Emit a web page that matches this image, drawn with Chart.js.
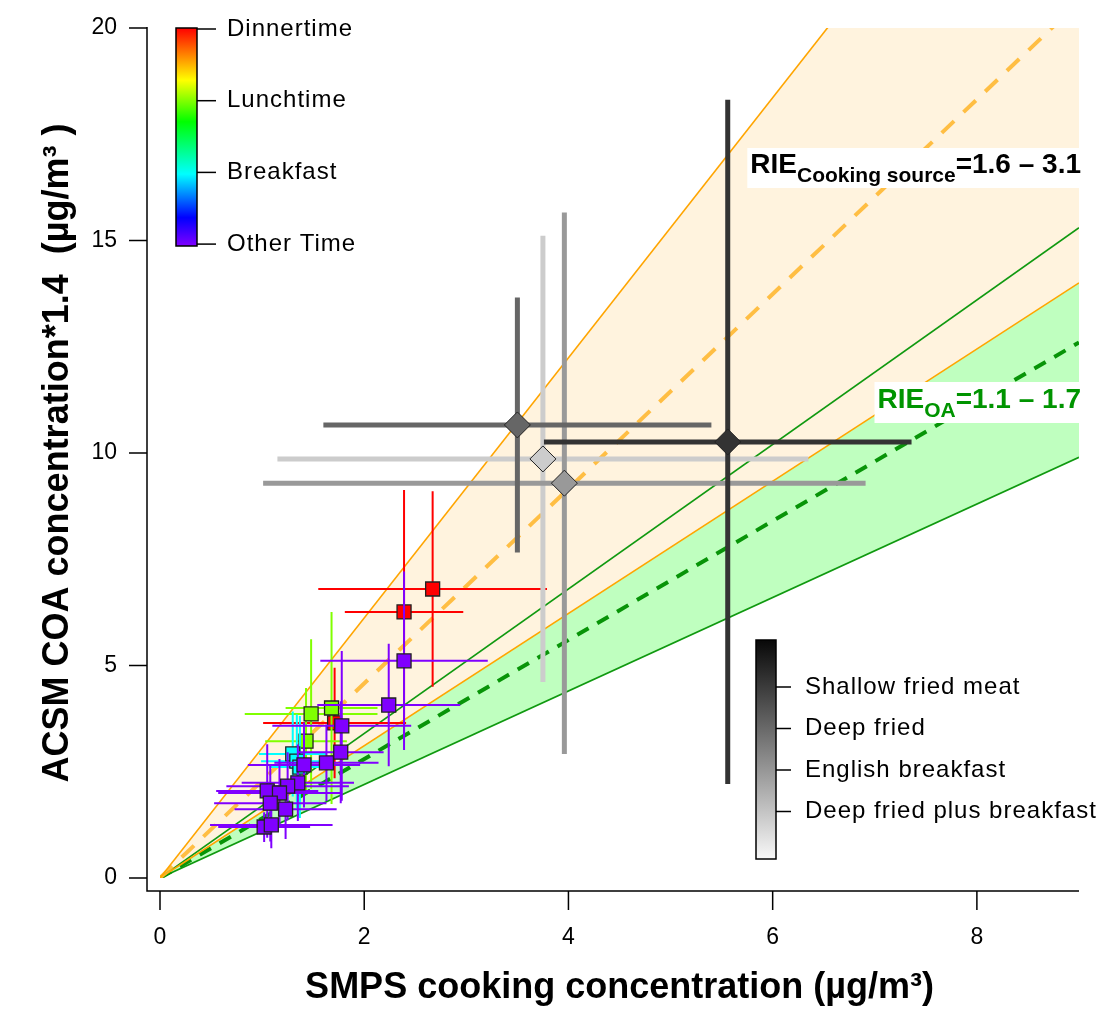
<!DOCTYPE html>
<html>
<head>
<meta charset="utf-8">
<script src="https://cdn.jsdelivr.net/npm/chart.js@4.4.1/dist/chart.umd.min.js"></script>
<style>body{margin:0;background:#fff}</style>
</head>
<body>
<canvas id="chart" width="1103" height="1010"></canvas>
<script>
// colored squares, one group per time of day
var dinnerX=[2.67,2.39,1.71];
var dinnerY=[6.80,6.26,3.65];
var dinnerXErr=[1.12,0.58,0.70];
var dinnerYErr=[2.30,2.87,1.30];

var lunchX=[1.68,1.48,1.43];
var lunchY=[4.00,3.86,3.22];
var lunchXErr=[0.45,0.65,0.40];
var lunchYErr=[2.26,1.76,1.25];

var breakfastX=[1.30,1.34,1.37];
var breakfastY=[2.92,2.75,2.61];
var breakfastXErr=[0.33,0.35,0.30];
var breakfastYErr=[1.0,1.1,1.2];

var otherX=[2.39,2.24,1.78,1.77,1.63,1.41,1.35,1.25,1.05,1.17,1.08,1.23,1.02,1.09];
var otherY=[5.11,4.07,3.58,2.96,2.71,2.66,2.24,2.16,2.05,2.00,1.76,1.62,1.20,1.25];
var otherXErr=[0.82,0.70,0.68,0.42,0.51,0.55,0.55,0.60,0.50,0.60,0.55,0.50,0.45,0.60];
var otherYErr=[2.10,1.44,1.76,1.20,0.90,1.00,0.90,0.80,1.10,0.80,0.90,0.70,0.35,0.55];

// cooking source experiments (grey diamonds)
var sourceNames=['Shallow fried meat','Deep fried','English breakfast','Deep fried plus breakfast'];
var sourceX=[5.56,3.50,3.96,3.75];
var sourceY=[10.26,10.66,9.29,9.86];
var sourceXErr=[1.80,1.90,2.95,2.60];
var sourceYErr=[8.05,3.00,6.37,5.25];
var sourceColors=['#333333','#666666','#999999','#cccccc'];

// RIE lines through the origin
var cookSlopes=[3.06,2.29,1.556];   // upper, mid (dashed), lower
var oaSlopes=[1.70,1.40,1.10];      // upper, mid (dashed), lower

var xTicks=[0,2,4,6,8];
var yTicks=[0,5,10,15,20];
var timeLabels=['Dinnertime','Lunchtime','Breakfast','Other Time'];

var XMAX=9, YMAX=20;
var FONT='"Liberation Sans", Arial, sans-serif';

var pts=function(xs,ys){
  return xs.map(function(v,i){ return {x:v,y:ys[i]}; });
};
var ray=function(s){
  return [{x:0,y:0},{x:XMAX,y:s*XMAX}];
};

var lineDs=function(s,color,w,dash,fill,bg){
  return {type:'line',data:ray(s),borderColor:color,borderWidth:w,borderDash:dash||[],
    pointRadius:0,fill:fill===undefined?false:fill,backgroundColor:bg||'transparent',order:10,tension:0};
};
var sqDs=function(label,xs,ys,xe,ye,color,order){
  return {label:label,data:pts(xs,ys),xErr:xe,yErr:ye,errColor:color,errWidth:2,
    pointStyle:'rect',pointRadius:9.9,backgroundColor:color,borderColor:'#222',borderWidth:1.3,order:order};
};

var datasets=[
  lineDs(cookSlopes[0],'#FFA500',1.6),
  lineDs(cookSlopes[1],'rgba(255,180,40,0.85)',4,[17,13]),
  lineDs(cookSlopes[2],'#FFA500',1.6,null,0,'#FFF3DE'),
  lineDs(oaSlopes[0],'#109910',1.6),
  lineDs(oaSlopes[1],'#089408',4,[13,10]),
  lineDs(oaSlopes[2],'#109910',1.6,null,2,'#BFFFBF'),
  sqDs('Dinnertime',dinnerX,dinnerY,dinnerXErr,dinnerYErr,'#FF0000',4),
  sqDs('Lunchtime',lunchX,lunchY,lunchXErr,lunchYErr,'#80FF00',3),
  sqDs('Breakfast',breakfastX,breakfastY,breakfastXErr,breakfastYErr,'#00FFFF',2),
  sqDs('Other Time',otherX,otherY,otherXErr,otherYErr,'#8000FF',1)
];
sourceNames.forEach(function(n,i){
  datasets.push({label:n,data:[{x:sourceX[i],y:sourceY[i]}],xErr:[sourceXErr[i]],yErr:[sourceYErr[i]],
    errColor:sourceColors[i],errWidth:5,pointStyle:'rectRot',pointRadius:13,
    backgroundColor:sourceColors[i],borderColor:'#222',borderWidth:1,order:0});
});

// error bars, drawn just before each dataset's markers
var errorBars={
  id:'errorBars',
  beforeDatasetDraw:function(chart,args){
    var ds=chart.data.datasets[args.index];
    if(!ds.xErr) return;
    var ctx=chart.ctx, xs=chart.scales.x, ys=chart.scales.y, a=chart.chartArea;
    ctx.save();
    ctx.beginPath(); ctx.rect(a.left,a.top,a.right-a.left,a.bottom-a.top); ctx.clip();
    ctx.strokeStyle=ds.errColor; ctx.lineWidth=ds.errWidth; ctx.lineCap='butt';
    ds.data.forEach(function(p,i){
      var px=xs.getPixelForValue(p.x), py=ys.getPixelForValue(p.y);
      ctx.beginPath();
      ctx.moveTo(xs.getPixelForValue(p.x-ds.xErr[i]),py);
      ctx.lineTo(xs.getPixelForValue(p.x+ds.xErr[i]),py);
      ctx.moveTo(px,ys.getPixelForValue(p.y-ds.yErr[i]));
      ctx.lineTo(px,ys.getPixelForValue(p.y+ds.yErr[i]));
      ctx.stroke();
    });
    ctx.restore();
  }
};

var subLabel=function(ctx,right,base,main,sub,rest,color,big,small,top,h){
  ctx.font='bold '+big+'px '+FONT; var w1=ctx.measureText(main).width, w3=ctx.measureText(rest).width;
  ctx.font='bold '+small+'px '+FONT; var w2=ctx.measureText(sub).width;
  var x=right-(w1+w2+w3);
  ctx.fillStyle='#fff'; ctx.fillRect(x-3,top,w1+w2+w3+5,h);
  ctx.fillStyle=color; ctx.textAlign='left'; ctx.textBaseline='alphabetic';
  ctx.font='bold '+big+'px '+FONT; ctx.fillText(main,x,base);
  ctx.font='bold '+small+'px '+FONT; ctx.fillText(sub,x+w1,base+9);
  ctx.font='bold '+big+'px '+FONT; ctx.fillText(rest,x+w1+w2,base);
};

var decor={
  id:'decor',
  afterDatasetsDraw:function(chart){
    var ctx=chart.ctx, xs=chart.scales.x, ys=chart.scales.y, a=chart.chartArea;
    ctx.save();
    subLabel(ctx,1081,173,'RIE','Cooking source','=1.6 \u2013 3.1','#000',28,21,148,40);
    subLabel(ctx,1081,408,'RIE','OA','=1.1 \u2013 1.7','#009400',28,21,382,41);

    // offset axes
    var ax=a.left-13, ay=a.bottom+13;
    ctx.strokeStyle='#000'; ctx.lineWidth=1.5;
    ctx.beginPath();
    ctx.moveTo(ax,a.top-1); ctx.lineTo(ax,ay); ctx.lineTo(a.right,ay);
    yTicks.forEach(function(v){ var y=ys.getPixelForValue(v); ctx.moveTo(ax-18,y); ctx.lineTo(ax,y); });
    xTicks.forEach(function(v){ var x=xs.getPixelForValue(v); ctx.moveTo(x,ay); ctx.lineTo(x,ay+19); });
    ctx.stroke();

    // rainbow colour bar
    var g=ctx.createLinearGradient(0,28,0,246);
    [[0,'#FF0000'],[0.12,'#FF8000'],[0.24,'#FFFF00'],[0.43,'#00FF00'],[0.67,'#00FFFF'],[0.87,'#0000FF'],[1,'#8000FF']]
      .forEach(function(s){ g.addColorStop(s[0],s[1]); });
    ctx.fillStyle=g; ctx.fillRect(176,28,21,218);
    ctx.strokeRect(176,28,21,218);
    ctx.font='24px '+FONT; ctx.fillStyle='#000'; ctx.textBaseline='middle'; ctx.textAlign='left';
    ctx.letterSpacing='1px';
    timeLabels.forEach(function(t,i){
      var y=29+i*71.7;
      ctx.beginPath(); ctx.moveTo(197,y); ctx.lineTo(216,y); ctx.stroke();
      ctx.fillText(t,227,y);
    });

    // grey colour bar
    var gg=ctx.createLinearGradient(0,640,0,859);
    gg.addColorStop(0,'#080808'); gg.addColorStop(1,'#f8f8f8');
    ctx.fillStyle=gg; ctx.fillRect(756,640,20,219);
    ctx.strokeRect(756,640,20,219);
    ctx.fillStyle='#000';
    sourceNames.forEach(function(t,i){
      var y=687+i*41.5;
      ctx.beginPath(); ctx.moveTo(776,y); ctx.lineTo(791,y); ctx.stroke();
      ctx.fillText(t,805,y);
    });
    ctx.letterSpacing='0px';
    ctx.restore();
  }
};

var ctx=document.getElementById('chart').getContext('2d');
var chart=new Chart(ctx,{
  type:'scatter',
  data:{datasets:datasets},
  options:{
    responsive:false,
    animation:false,
    devicePixelRatio:1,
    layout:{padding:{top:28,right:24,left:0,bottom:0}},
    plugins:{legend:{display:false},tooltip:{enabled:false},filler:{drawTime:'beforeDatasetsDraw'}},
    scales:{
      x:{type:'linear',min:0,max:XMAX,
        afterFit:function(s){ s.height=132; s.paddingLeft=0; s.paddingRight=0; },
        afterBuildTicks:function(s){ s.ticks=xTicks.map(function(v){ return {value:v}; }); },
        grid:{display:false,drawTicks:false},border:{display:false},
        ticks:{padding:46,color:'#000',font:{family:FONT,size:23}},
        title:{display:true,text:'SMPS cooking concentration (\u00b5g/m\u00b3)',color:'#000',
          font:{family:FONT,size:36,weight:'bold'},padding:{top:0,bottom:0}}
      },
      y:{type:'linear',min:0,max:YMAX,
        afterFit:function(s){ s.width=160; s.paddingTop=0; s.paddingBottom=0; },
        afterBuildTicks:function(s){ s.ticks=yTicks.map(function(v){ return {value:v}; }); },
        grid:{display:false,drawTicks:false},border:{display:false},
        ticks:{padding:43,color:'#000',font:{family:FONT,size:23}},
        title:{display:true,text:'ACSM COA concentration*1.4  (\u00b5g/m\u00b3 )',color:'#000',
          font:{family:FONT,size:36,weight:'bold'},padding:{top:36,bottom:0}}
      }
    }
  },
  plugins:[errorBars,decor]
});
</script>
</body>
</html>
